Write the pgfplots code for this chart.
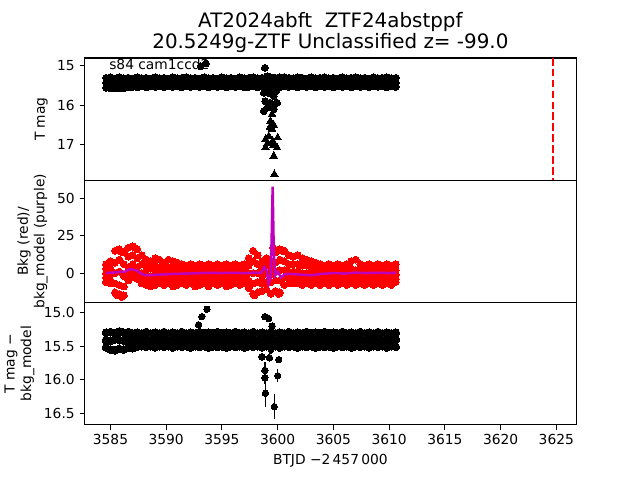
\documentclass[border=0pt]{standalone}
\usepackage{fontspec}
\setmainfont{DejaVu Sans}
\usepackage{pgfplots}
\pgfplotsset{compat=1.18}
\usepackage{pgfplotstable}

\pgfplotstableread{
x t1 t2 t3
3584.6 15.31 15.43 15.56
3585.0 15.30 15.44 15.58
3585.4 15.33 15.44 15.57
3585.8 15.29 15.42 15.58
3586.2 15.32 15.43 15.57
3586.6 15.31 15.42 15.55
3587.0 15.33 15.44 15.54
3587.4 15.30 15.42 15.55
3587.8 15.32 15.43 15.53
3588.2 15.31 15.42 15.55
3588.6 15.33 15.43 15.53
3589.0 15.30 15.42 15.54
3589.4 15.32 15.44 15.53
3589.8 15.31 15.42 15.55
3590.2 15.33 15.43 15.52
3590.6 15.30 15.42 15.54
3591.0 15.32 15.43 15.53
3591.4 15.31 15.42 15.55
3591.8 15.30 15.43 15.53
3592.2 15.32 15.42 15.54
3592.6 15.31 15.44 15.52
3593.0 15.33 15.42 15.54
3593.4 15.30 15.43 15.53
3593.8 15.32 15.42 15.55
3594.2 15.31 15.43 15.52
3594.6 15.33 15.42 15.54
3595.0 15.30 15.44 15.53
3595.4 15.32 15.42 15.55
3595.8 15.31 15.43 15.52
3596.2 15.33 15.42 15.54
3596.6 15.30 15.43 15.53
3597.0 15.32 15.42 15.55
3597.4 15.31 15.43 15.54
3597.8 15.30 15.42 15.53
3598.2 15.32 15.44 15.55
3598.6 15.31 15.43 15.54
3599.0 15.29 15.42 15.56
3599.4 15.30 15.43 15.55
3599.8 15.31 15.42 15.54
3600.2 15.30 15.44 15.55
3600.6 15.29 15.42 15.53
3601.0 15.31 15.43 15.54
3601.4 15.32 15.42 15.53
3601.8 15.30 15.43 15.55
3602.2 15.31 15.42 15.52
3602.6 15.33 15.44 15.54
3603.0 15.30 15.42 15.53
3603.4 15.32 15.43 15.55
3603.8 15.31 15.42 15.52
3604.2 15.30 15.43 15.54
3604.6 15.32 15.42 15.53
3605.0 15.31 15.44 15.55
3605.4 15.33 15.42 15.52
3605.8 15.30 15.43 15.54
3606.2 15.32 15.42 15.53
3606.6 15.31 15.43 15.55
3607.0 15.30 15.42 15.52
3607.4 15.32 15.44 15.54
3607.8 15.31 15.42 15.53
3608.2 15.33 15.43 15.55
3608.6 15.30 15.42 15.52
3609.0 15.32 15.43 15.54
3609.4 15.31 15.42 15.53
3609.8 15.30 15.44 15.55
3610.2 15.32 15.42 15.53
3610.6 15.31 15.43 15.54
}\toptab

\pgfplotstableread{
x r1 r2 r3 r4 r5
3584.6 6 3 0 -3 -6
3585.0 8 3 -1 -5 -7
3585.4 15 7 0 -7 -13
3585.8 16 9 1 -8 -14
3586.2 14 6 -2 -9 -15
3586.6 17 11 4 -1 -5
3587.0 18 12 6 1 -3
3587.4 16 10 4 0 -4
3587.8 12 6 0 -4 -7
3588.2 9 4 -1 -5 -8
3588.6 8 3 -2 -5 -9
3589.0 10 5 0 -4 -8
3589.4 9 4 -1 -5 -7
3589.8 7 3 -1 -4 -8
3590.2 9 4 0 -4 -7
3590.6 8 3 -1 -5 -9
3591.0 7 3 0 -4 -8
3591.4 6 2 -1 -4 -7
3591.8 5 2 -1 -4 -8
3592.2 6 3 0 -4 -7
3592.6 5 2 -1 -5 -9
3593.0 6 2 -1 -4 -8
3593.4 5 2 0 -4 -7
3593.8 6 3 -1 -5 -9
3594.2 5 2 -1 -4 -7
3594.6 6 2 0 -4 -8
3595.0 5 2 -1 -4 -7
3595.4 6 3 -1 -5 -9
3595.8 5 2 0 -4 -8
3596.2 6 2 -1 -4 -7
3596.6 5 2 -1 -5 -8
3597.0 6 3 0 -4 -7
3597.4 10 5 0 -5 -10
3597.8 15 8 0 -7 -14
3598.2 12 6 0 -6 -13
3598.6 8 3 -2 -7 -12
3599.0 10 5 0 -6 -11
3599.4 8 4 -1 -6 -14
3599.8 14 7 1 -5 -12
3600.2 16 9 2 -5 -13
3600.6 15 8 2 -3 -8
3601.0 12 6 1 -3 -7
3601.4 11 6 1 -3 -7
3601.8 12 6 1 -3 -7
3602.2 10 5 0 -4 -8
3602.6 9 5 0 -4 -7
3603.0 8 4 0 -4 -8
3603.4 7 3 -1 -4 -7
3603.8 6 3 0 -4 -8
3604.2 5 2 -1 -4 -7
3604.6 6 2 0 -4 -8
3605.0 5 2 -1 -4 -7
3605.4 6 3 0 -4 -8
3605.8 5 2 -1 -5 -7
3606.2 6 2 0 -4 -8
3606.6 8 3 0 -4 -7
3607.0 9 2 -1 -4 -8
3607.4 6 3 0 -4 -7
3607.8 5 2 -1 -4 -8
3608.2 6 2 0 -4 -7
3608.6 5 2 -1 -4 -8
3609.0 6 3 0 -4 -7
3609.4 5 2 -1 -5 -8
3609.8 6 2 0 -4 -7
3610.2 5 3 0 -4 -8
3610.6 6 2 -1 -4 -6
}\bkgtab

\pgfplotstableread{
x u1 u2 u3
3584.6 15.30 15.41 15.52
3585.0 15.29 15.42 15.55
3585.4 15.31 15.40 15.56
3585.8 15.28 15.41 15.54
3586.2 15.30 15.42 15.55
3586.6 15.29 15.40 15.52
3587.0 15.31 15.41 15.53
3587.4 15.30 15.40 15.51
3587.8 15.31 15.41 15.50
3588.2 15.29 15.40 15.51
3588.6 15.31 15.42 15.50
3589.0 15.30 15.40 15.52
3589.4 15.31 15.41 15.50
3589.8 15.29 15.40 15.51
3590.2 15.31 15.42 15.50
3590.6 15.30 15.40 15.52
3591.0 15.31 15.41 15.50
3591.4 15.29 15.40 15.51
3591.8 15.31 15.42 15.50
3592.2 15.30 15.40 15.52
3592.6 15.31 15.41 15.50
3593.0 15.29 15.40 15.51
3593.4 15.31 15.42 15.50
3593.8 15.30 15.40 15.52
3594.2 15.31 15.41 15.50
3594.6 15.29 15.40 15.51
3595.0 15.31 15.42 15.50
3595.4 15.30 15.40 15.52
3595.8 15.31 15.41 15.50
3596.2 15.29 15.40 15.51
3596.6 15.31 15.42 15.50
3597.0 15.30 15.40 15.52
3597.4 15.31 15.41 15.50
3597.8 15.29 15.40 15.51
3598.2 15.31 15.42 15.50
3598.6 15.30 15.40 15.52
3599.0 15.31 15.41 15.50
3599.4 15.29 15.40 15.51
3599.8 15.31 15.42 15.50
3600.2 15.30 15.40 15.52
3600.6 15.31 15.41 15.50
3601.0 15.29 15.40 15.51
3601.4 15.31 15.42 15.50
3601.8 15.30 15.40 15.52
3602.2 15.31 15.41 15.50
3602.6 15.29 15.40 15.51
3603.0 15.31 15.42 15.50
3603.4 15.30 15.40 15.52
3603.8 15.31 15.41 15.50
3604.2 15.29 15.40 15.51
3604.6 15.31 15.42 15.50
3605.0 15.30 15.40 15.52
3605.4 15.31 15.41 15.50
3605.8 15.29 15.40 15.51
3606.2 15.31 15.42 15.50
3606.6 15.30 15.40 15.52
3607.0 15.31 15.41 15.50
3607.4 15.29 15.40 15.51
3607.8 15.31 15.42 15.50
3608.2 15.30 15.40 15.52
3608.6 15.31 15.41 15.50
3609.0 15.29 15.40 15.51
3609.4 15.31 15.42 15.50
3609.8 15.30 15.40 15.52
3610.2 15.31 15.41 15.50
3610.6 15.30 15.40 15.51
}\bottab

\definecolor{mplpurple}{RGB}{191,0,191}

\pgfplotsset{
  panel/.style={
    scale only axis, width=356.4pt, height=88.55pt,
    xmin=3582.66, xmax=3626.8,
    anchor=south west,
    clip marker paths=true,
    axis line style={line width=0.8pt, black},
    every tick/.style={line width=0.8pt, black},
    tick align=outside, major tick length=3.5pt,
    xtick pos=left, ytick pos=left,
    tick label style={font=\fontsize{10}{12}\selectfont},
    label style={font=\fontsize{10}{12}\selectfont},
    ylabel style={align=center},
    /pgf/number format/assume math mode=true,
    /pgf/number format/set thousands separator={},
  },
  dots/.style={only marks, mark=*, mark size=2.5pt, mark options={draw=black, fill=black, line width=0pt}},
  bdots/.style={only marks, mark=*, mark size=2.8pt, mark options={draw=black, fill=black, line width=0pt}},
  rdots/.style={only marks, mark=*, mark size=2.5pt, mark options={draw=red, fill=red, line width=0pt}},
}

\begin{document}
\begin{tikzpicture}
\path (0,0) rectangle (460.8pt,345.6pt);

% top panel
\begin{axis}[panel, at={(58.3pt,215.05pt)},
  y dir=reverse, ymin=14.81, ymax=17.89,
  ytick={15,16,17}, xtick=\empty,
  ylabel={T mag}]
\addplot[dots] table[x=x,y=t1]{\toptab};
\addplot[dots] table[x=x,y=t2]{\toptab};
\addplot[dots] table[x=x,y=t3]{\toptab};
\addplot[dots] coordinates {
 (3593.1,15.02) (3593.55,14.95) (3598.85,15.06) (3599.05,15.27)
 (3598.76,15.69) (3599.2,15.69) (3598.9,15.90) (3599.65,15.77)
 (3599.35,15.94) (3599.95,15.94) (3598.76,16.15) (3599.65,16.10)
 (3599.1,16.05) (3599.5,15.60) (3599.85,15.65)};
\addplot[only marks, mark=triangle*, mark size=3.2pt, mark options={draw=black, fill=black, line width=0pt}] coordinates {
 (3599.5,16.23) (3599.35,16.40) (3599.65,16.50) (3599.5,16.60)
 (3599.2,16.78) (3600.0,16.82) (3598.9,16.86) (3599.65,17.00)
 (3598.9,17.07) (3599.95,17.07) (3599.65,17.28) (3599.7,17.74)
 (3599.3,16.55) (3599.55,16.90) (3599.1,16.95)};
\addplot[red, line width=1.5pt, dash pattern=on 5.5pt off 2.4pt] coordinates {(3624.7,14.81) (3624.7,17.89)};
\node[anchor=base west, font=\fontsize{10}{12}\selectfont, inner sep=0pt] at (rel axis cs:0.05,0.905) {s84 cam1ccd2};
\end{axis}

% middle panel
\begin{axis}[panel, at={(58.3pt,126.5pt)},
  ymin=-19.7, ymax=62.3,
  ytick={0,25,50}, xtick=\empty,
  ylabel={Bkg (red)/\\bkg\_model (purple)}]
\addplot[rdots] table[x=x,y=r1]{\bkgtab};
\addplot[rdots] table[x=x,y=r2]{\bkgtab};
\addplot[rdots] table[x=x,y=r3]{\bkgtab};
\addplot[rdots] table[x=x,y=r4]{\bkgtab};
\addplot[rdots] table[x=x,y=r5]{\bkgtab};
\addplot[rdots] coordinates {(3585.6,-15) (3586.0,-16) (3597.9,-15) (3600.1,-14) (3599.6,17) (3587.2,17) (3586.0,14) (3600.4,15)};
\addplot[mplpurple, line width=1.8pt] coordinates {
 (3584.6,0) (3585.5,0.5) (3586.3,1) (3586.7,2.5) (3587.0,2.5) (3587.4,1.5)
 (3587.8,-0.5) (3588.2,-1.5) (3589.0,-1.2) (3590,-0.8) (3591,-0.5) (3592,-0.3)
 (3593,0) (3594,0.2) (3595,0) (3596,0.2) (3597,0) (3598,0.3) (3598.5,0)
 (3598.8,4) (3599.0,2) (3599.2,-7) (3599.35,-3) (3599.45,20) (3599.55,58)
 (3599.65,15) (3599.75,-2) (3600.0,1) (3600.3,-3) (3600.6,-1) (3601,-0.5)
 (3602,-1) (3603,-1.5) (3604,-0.5) (3605,0) (3606,-0.3) (3607,0.3) (3608,0)
 (3609,0.2) (3610,0) (3610.6,0.3)};
\end{axis}

% bottom panel
\begin{axis}[panel, at={(58.3pt,37.9pt)},
  y dir=reverse, ymin=14.85, ymax=16.67,
  ytick={15,15.5,16,16.5},
  yticklabel style={/pgf/number format/.cd, fixed, fixed zerofill, precision=1},
  xtick={3585,3590,...,3625},
  xlabel={BTJD −2\,457\,000},
  ylabel={T mag −\\bkg\_model}]
\addplot[bdots, error bars/.cd, y dir=both, y fixed=0.06, error mark=none, error bar style={black, line width=0.8pt}] table[x=x,y=u1]{\bottab};
\addplot[bdots, error bars/.cd, y dir=both, y fixed=0.06, error mark=none, error bar style={black, line width=0.8pt}] table[x=x,y=u2]{\bottab};
\addplot[bdots, error bars/.cd, y dir=both, y fixed=0.06, error mark=none, error bar style={black, line width=0.8pt}] table[x=x,y=u3]{\bottab};
\addplot[only marks, mark=*, mark size=2.3pt, mark options={draw=black, fill=black, line width=0pt}, error bars/.cd, y dir=both, y explicit, error mark=none, error bar style={black, line width=1pt}] coordinates {
 (3592.9,15.18) +- (0,0.03)
 (3593.2,15.06) +- (0,0.03)
 (3593.65,14.95) +- (0,0.03)
 (3598.6,15.66) +- (0,0.06)
 (3598.85,15.86) +- (0,0.12)
 (3598.85,15.97) +- (0,0.10)
 (3598.9,16.20) +- (0,0.20)
 (3599.26,15.67) +- (0,0.07)
 (3599.7,16.40) +- (0,0.19)
 (3600.0,15.94) +- (0,0.10)
 (3600.1,15.70) +- (0,0.05)
 (3598.85,15.06) +- (0,0.04)
 (3599.2,15.09) +- (0,0.04)
 (3599.5,15.20) +- (0,0.05)
 (3599.4,15.55) +- (0,0.06)
};
\end{axis}

\node[anchor=base, font=\fontsize{14.4}{17}\selectfont, inner sep=0pt] at (236.5pt,325.4pt) {AT2024abft\ \ ZTF24abstppf};
\node[anchor=base, font=\fontsize{14.4}{17}\selectfont, inner sep=0pt] at (236.5pt,310.5pt) {20.5249g-ZTF Unclassified z= -99.0};
\end{tikzpicture}
\end{document}
